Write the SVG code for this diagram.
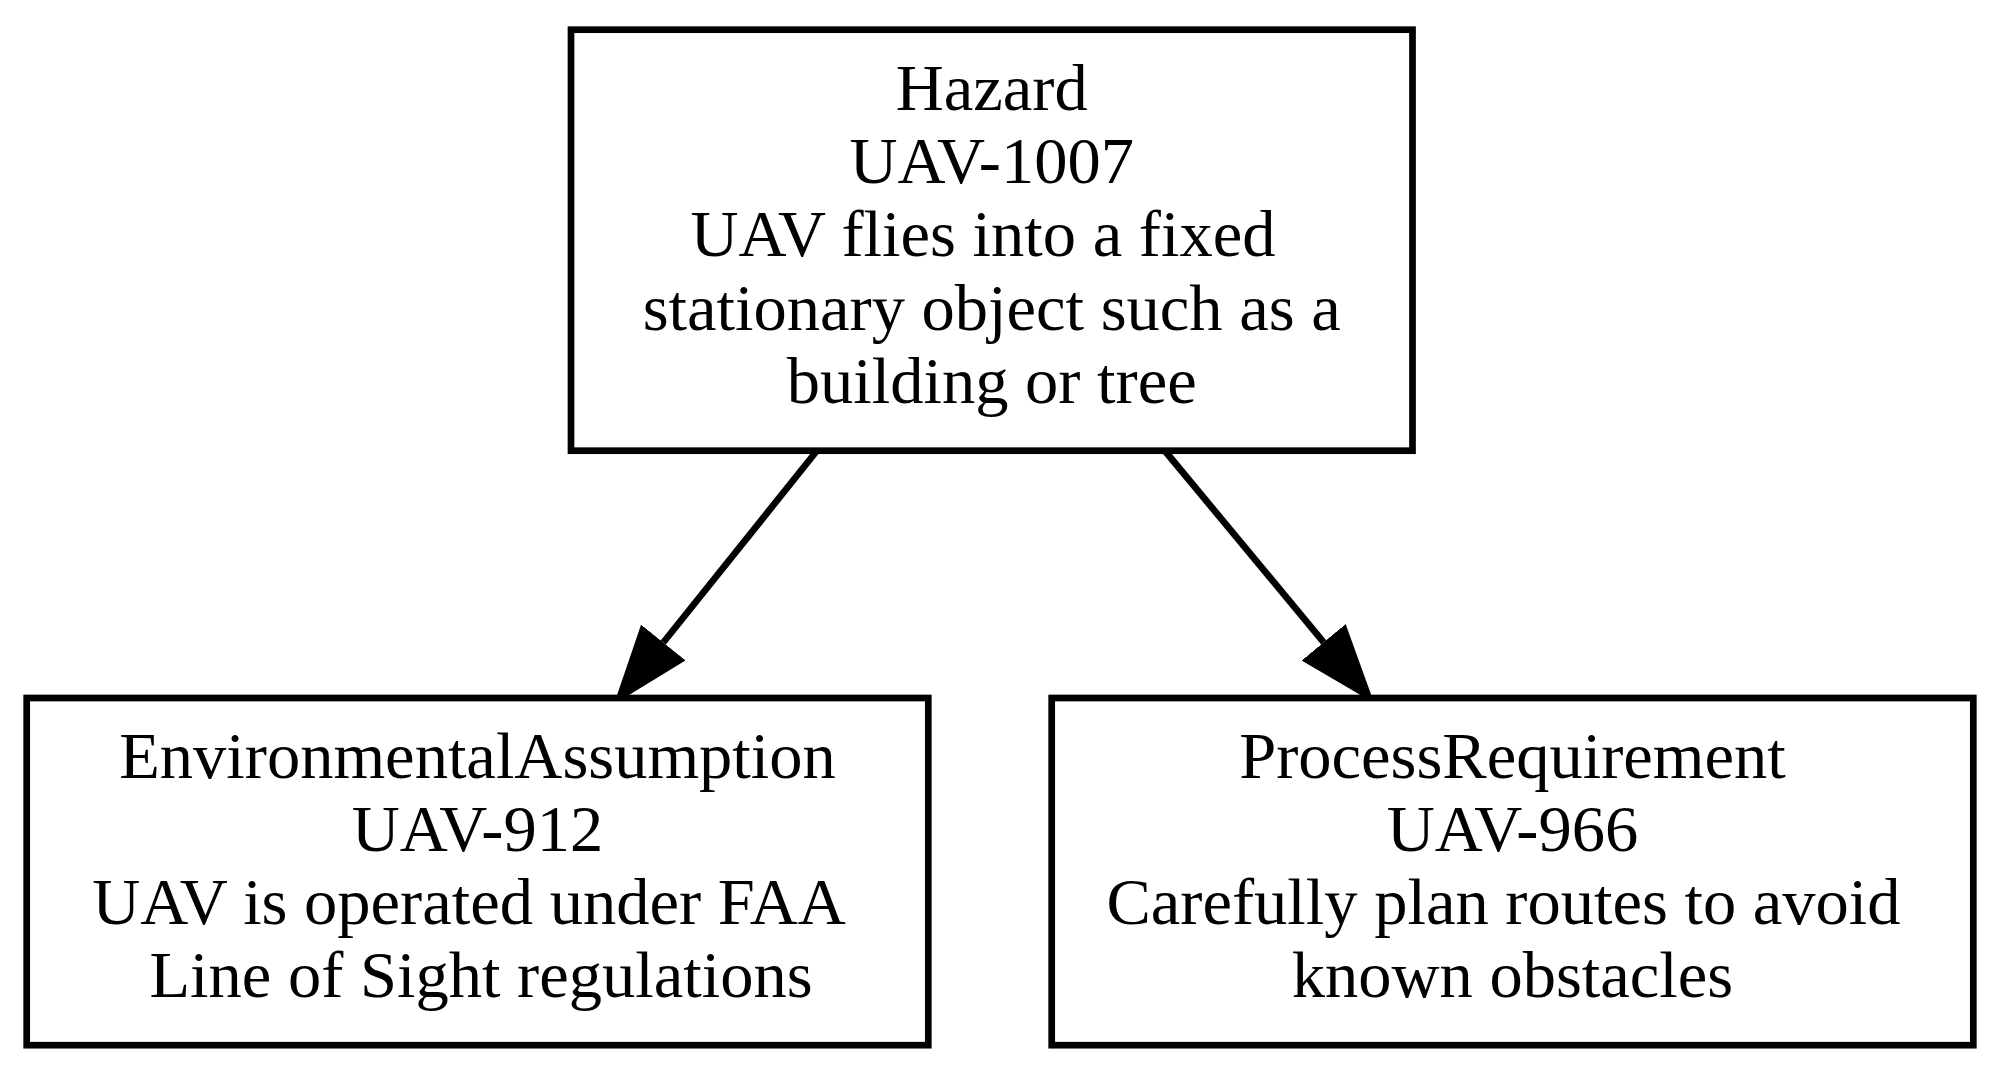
<svg xmlns="http://www.w3.org/2000/svg" width="2000" height="1075" viewBox="0 0 2000 1075">
<style>
.box{fill:#fff;stroke:#000;stroke-width:6.7}
.lbl{font-family:"Liberation Serif","Times New Roman",serif;font-size:66.5px;fill:#000;text-anchor:middle}
.edge{stroke:#000;stroke-width:6.7;fill:none}
</style>
<defs>
<marker id="arr" markerUnits="userSpaceOnUse" viewBox="0 0 79 57" refX="0" refY="28.5" markerWidth="79" markerHeight="57" orient="auto">
<path d="M0,0 L79,28.5 L0,57 z" fill="#000"/>
</marker>
</defs>
<rect width="2000" height="1075" fill="#fff"/>
<g id="edges">
<line class="edge" x1="816.7" y1="451" x2="663.3" y2="642.5" marker-end="url(#arr)"/>
<line class="edge" x1="1165" y1="451" x2="1323.7" y2="642.3" marker-end="url(#arr)"/>
</g>
<g id="hazard">
<rect class="box" x="571" y="29.7" width="841.5" height="421"/>
<text class="lbl" x="991.75" y="110">Hazard</text>
<text class="lbl" x="991.75" y="183.2">UAV-1007</text>
<text class="lbl" x="983" y="256.4">UAV flies into a fixed</text>
<text class="lbl" x="991.75" y="329.6">stationary object such as a</text>
<text class="lbl" x="991.75" y="402.8">building or tree</text>
</g>
<g id="envAssumption">
<rect class="box" x="26.7" y="698" width="901.6" height="347.2"/>
<text class="lbl" x="477.5" y="777.5">EnvironmentalAssumption</text>
<text class="lbl" x="477.5" y="850.8">UAV-912</text>
<text class="lbl" x="469" y="924">UAV is operated under FAA</text>
<text class="lbl" x="481" y="997.3">Line of Sight regulations</text>
</g>
<g id="processRequirement">
<rect class="box" x="1051.7" y="698" width="921.6" height="347.2"/>
<text class="lbl" x="1512.5" y="777.5">ProcessRequirement</text>
<text class="lbl" x="1512.5" y="850.8">UAV-966</text>
<text class="lbl" x="1503.5" y="924">Carefully plan routes to avoid</text>
<text class="lbl" x="1512.5" y="997.3">known obstacles</text>
</g>
</svg>
